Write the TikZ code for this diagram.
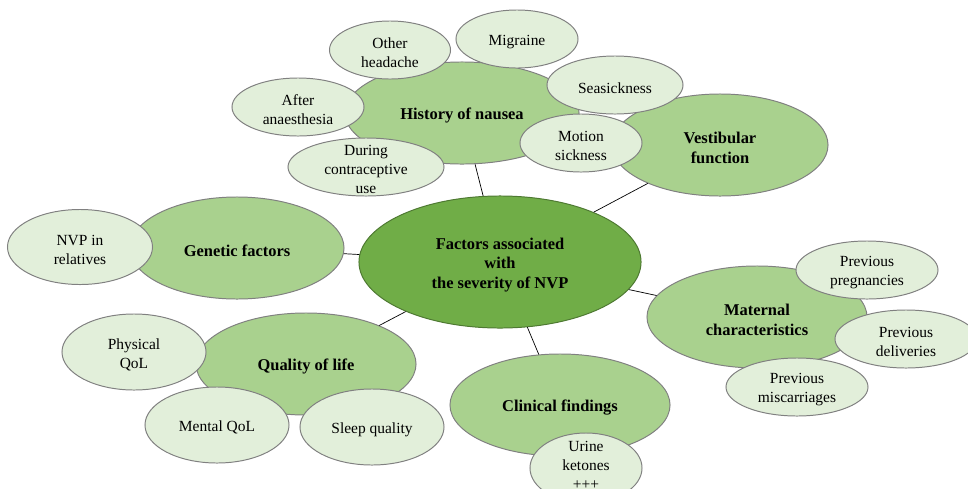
\documentclass[tikz,border=0pt]{standalone}
\usepackage{fontspec}
\setmainfont{Liberation Serif}
\usetikzlibrary{shapes.geometric}
\definecolor{hubgreen}{HTML}{70AD47}
\definecolor{midgreen}{HTML}{A9D18E}
\definecolor{palegreen}{HTML}{E2EFDA}
\begin{document}
\begin{tikzpicture}[x=0.025cm,y=-0.025cm,
    every node/.style={ellipse,inner sep=0,align=center,font=\fontsize{11}{13.5}\selectfont},
    every label/.style={draw=none,fill=none,yshift=-2pt},
    hub/.style={fill=hubgreen,draw=hubgreen!70!black,line width=.7pt},
    factor/.style={fill=midgreen,draw=gray,line width=.7pt},
    item/.style={fill=palegreen,draw=gray,line width=.7pt},
    bold/.style={font=\fontsize{11.7}{14}\selectfont\bfseries},
    link/.style={line width=.5pt}]
        \useasboundingbox (0,0) rectangle (968,488);
        \clip (0,0) rectangle (968,488);
        % centre
        \node[hub,minimum width=7.05cm,minimum height=3.3cm,label={[bold]center:Factors associated\\with\\the severity of NVP}](nvp)at(500,262){};
        % main factors
        \node[factor,minimum width=5.85cm,minimum height=2.55cm,label={[bold]center:History of nausea}](hist)at(462,113){};
        \node[factor,minimum width=5.4cm,minimum height=2.55cm,label={[bold]center:Vestibular\\function}](vest)at(720,145){};
        \node[factor,minimum width=5.35cm,minimum height=2.55cm,label={[bold]center:Genetic factors}](gene)at(237,248){};
        \node[factor,minimum width=5.5cm,minimum height=2.55cm,label={[bold]center:Maternal\\characteristics}](mat)at(757,317){};
        \node[factor,minimum width=5.5cm,minimum height=2.55cm,label={[bold]center:Clinical findings}](clin)at(560,405){};
        \node[factor,minimum width=5.5cm,minimum height=2.55cm,label={[bold]center:Quality of life}](qol)at(306,364){};
        % links
        \draw[link](nvp)--(hist);
        \draw[link](nvp)--(vest);
        \draw[link](nvp)--(gene);
        \draw[link](nvp)--(mat);
        \draw[link](nvp)--(clin);
        \draw[link](nvp)--(qol);
        % history of nausea
        \node[item,minimum width=3.025cm,minimum height=1.45cm,label={center:Other\\headache}](headache)at(390,50){};
        \node[item,minimum width=3.05cm,minimum height=1.45cm,label={center:Migraine}](migraine)at(517,39){};
        \node[item,minimum width=3.4cm,minimum height=1.45cm,label={center:Seasickness}](sea)at(615,85){};
        \node[item,minimum width=3.05cm,minimum height=1.45cm,label={center:Motion\\sickness}](motion)at(581,143){};
        \node[item,minimum width=3.3cm,minimum height=1.45cm,label={center:After\\anaesthesia}](anaes)at(298,107){};
        \node[item,minimum width=3.9cm,minimum height=1.45cm,label={center:During\\contraceptive\\use}](contra)at(366,167){};
        % genetic factors
        \node[item,minimum width=3.625cm,minimum height=1.875cm,label={center:NVP in\\relatives}](relat)at(80,247){};
        % maternal characteristics
        \node[item,minimum width=3.55cm,minimum height=1.45cm,label={center:Previous\\pregnancies}](preg)at(867,270){};
        \node[item,minimum width=3.55cm,minimum height=1.45cm,label={center:Previous\\deliveries}](deliv)at(906,339){};
        \node[item,minimum width=3.55cm,minimum height=1.45cm,label={center:Previous\\miscarriages}](misc)at(797,387){};
        % clinical findings
        \node[item,minimum width=2.8cm,minimum height=1.75cm,label={[yshift=4pt]center:Urine\\ketones\\+++}](urine)at(586,468){};
        % quality of life
        \node[item,minimum width=3.6cm,minimum height=1.9cm,label={center:Physical\\QoL}](phys)at(134,352){};
        \node[item,minimum width=3.6cm,minimum height=1.9cm,label={center:Mental QoL}](mental)at(217,425){};
        \node[item,minimum width=3.6cm,minimum height=1.9cm,label={center:Sleep quality}](sleep)at(372,427){};
\end{tikzpicture}
\end{document}
